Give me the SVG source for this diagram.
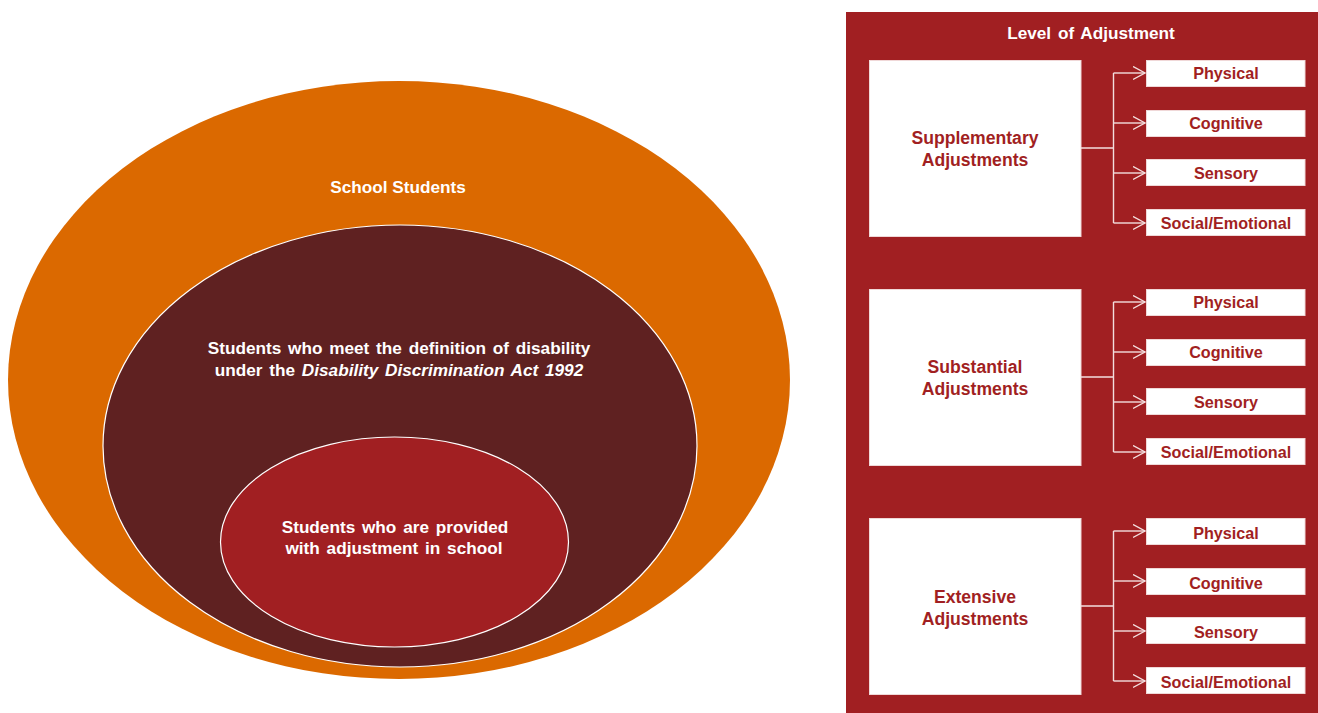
<svg xmlns="http://www.w3.org/2000/svg" width="1318" height="713" viewBox="0 0 1318 713">
<defs>
<marker id="arr" markerWidth="14" markerHeight="16" refX="12" refY="7" orient="auto" markerUnits="userSpaceOnUse">
<path d="M0,0.5 L12,7 L0,13.5" fill="none" stroke="#f3dede" stroke-width="1.4"/>
</marker>
</defs>
<style>
text{font-family:"Liberation Sans",Arial,sans-serif;font-weight:bold;text-anchor:middle}
.wt{fill:#ffffff;font-size:17.2px}
.big{fill:#a11f22;font-size:17.6px}
.sm{fill:#a11f22;font-size:16.2px}
.bigbox{fill:#ffffff;stroke:#f0d8d8;stroke-width:1}
.smbox{fill:#ffffff;stroke:#f0d8d8;stroke-width:1}
.con{fill:none;stroke:#f3dede;stroke-width:1.4}
</style>
<rect width="1318" height="713" fill="#ffffff"/>
<g id="school-students">
<ellipse cx="399" cy="380" rx="391" ry="299" fill="#db6900"/>
<text class="wt" x="398" y="193">School Students</text>
</g>
<g id="disability">
<ellipse cx="400" cy="446" rx="297" ry="221" fill="#5f2121" stroke="#ffffff" stroke-width="1.2"/>
<text class="wt" x="399" y="354" word-spacing="2">Students who meet the definition of disability</text>
<text class="wt" x="399" y="376" word-spacing="2">under the <tspan font-style="italic">Disability Discrimination Act 1992</tspan></text>
</g>
<g id="adjustment">
<ellipse cx="394.5" cy="542" rx="174" ry="105" fill="#a11f22" stroke="#ffffff" stroke-width="1.2"/>
<text class="wt" x="395" y="533" word-spacing="2">Students who are provided</text>
<text class="wt" x="394" y="554" word-spacing="2">with adjustment  in school</text>
</g>
<g id="level-panel">
<rect x="846" y="12" width="472" height="701" fill="#a11f22"/>
<text class="wt" x="1091" y="39" word-spacing="2">Level of Adjustment</text>
</g>
<g id="supplementary">
<rect class="bigbox" x="869.5" y="60.5" width="211.5" height="176"/>
<text class="big" x="975" y="143.5">Supplementary</text>
<text class="big" x="975" y="165.5">Adjustments</text>
</g>
<g id="supp-items">
<rect class="smbox" x="1146.5" y="60.5" width="158.5" height="26"/><text class="sm" x="1226" y="79">Physical</text>
<rect class="smbox" x="1146.5" y="110.5" width="158.5" height="26"/><text class="sm" x="1226" y="129">Cognitive</text>
<rect class="smbox" x="1146.5" y="159.5" width="158.5" height="26"/><text class="sm" x="1226" y="179">Sensory</text>
<rect class="smbox" x="1146.5" y="209.5" width="158.5" height="26"/><text class="sm" x="1226" y="229">Social/Emotional</text>
</g>
<g id="substantial">
<rect class="bigbox" x="869.5" y="289.5" width="211.5" height="176"/>
<text class="big" x="975" y="372.5">Substantial</text>
<text class="big" x="975" y="394.5">Adjustments</text>
</g>
<g id="subs-items">
<rect class="smbox" x="1146.5" y="289.5" width="158.5" height="26"/><text class="sm" x="1226" y="308">Physical</text>
<rect class="smbox" x="1146.5" y="339.5" width="158.5" height="26"/><text class="sm" x="1226" y="358">Cognitive</text>
<rect class="smbox" x="1146.5" y="388.5" width="158.5" height="26"/><text class="sm" x="1226" y="408">Sensory</text>
<rect class="smbox" x="1146.5" y="438.5" width="158.5" height="26"/><text class="sm" x="1226" y="458">Social/Emotional</text>
</g>
<g id="extensive">
<rect class="bigbox" x="869.5" y="518.5" width="211.5" height="176"/>
<text class="big" x="975" y="603">Extensive</text>
<text class="big" x="975" y="625">Adjustments</text>
</g>
<g id="ext-items">
<rect class="smbox" x="1146.5" y="518.5" width="158.5" height="26"/><text class="sm" x="1226" y="539">Physical</text>
<rect class="smbox" x="1146.5" y="568.5" width="158.5" height="26"/><text class="sm" x="1226" y="589">Cognitive</text>
<rect class="smbox" x="1146.5" y="617.5" width="158.5" height="26"/><text class="sm" x="1226" y="638">Sensory</text>
<rect class="smbox" x="1146.5" y="667.5" width="158.5" height="26"/><text class="sm" x="1226" y="688">Social/Emotional</text>
</g>
<g id="connectors">
<path class="con" d="M1081,148 H1113.5 M1113.5,73 V223"/>
<path class="con" marker-end="url(#arr)" d="M1113.5,73 H1145"/>
<path class="con" marker-end="url(#arr)" d="M1113.5,123 H1145"/>
<path class="con" marker-end="url(#arr)" d="M1113.5,173 H1145"/>
<path class="con" marker-end="url(#arr)" d="M1113.5,223 H1145"/>
<path class="con" d="M1081,377 H1113.5 M1113.5,302 V452"/>
<path class="con" marker-end="url(#arr)" d="M1113.5,302 H1145"/>
<path class="con" marker-end="url(#arr)" d="M1113.5,352 H1145"/>
<path class="con" marker-end="url(#arr)" d="M1113.5,402 H1145"/>
<path class="con" marker-end="url(#arr)" d="M1113.5,452 H1145"/>
<path class="con" d="M1081,606 H1113.5 M1113.5,531 V681"/>
<path class="con" marker-end="url(#arr)" d="M1113.5,531 H1145"/>
<path class="con" marker-end="url(#arr)" d="M1113.5,581 H1145"/>
<path class="con" marker-end="url(#arr)" d="M1113.5,631 H1145"/>
<path class="con" marker-end="url(#arr)" d="M1113.5,681 H1145"/>
</g>
</svg>
